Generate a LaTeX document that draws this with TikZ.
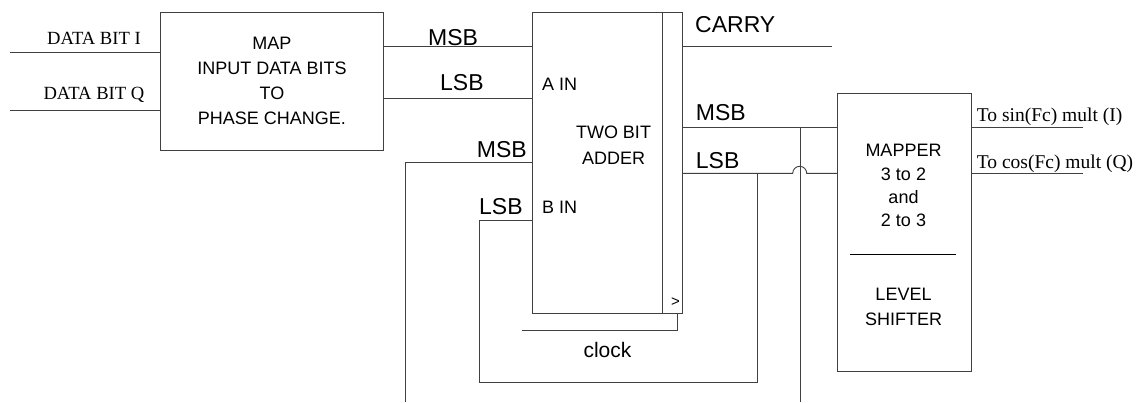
\documentclass[tikz,border=0pt]{standalone}
\usepackage{fontspec}
\setmainfont{Liberation Sans}
\newfontfamily\serifF{Liberation Serif}
\begin{document}
\begin{tikzpicture}[x=1pt,y=-1pt,
  line/.style={draw=black!75, line width=0.9pt},
  blk/.style={line, rectangle, inner sep=0pt, anchor=north west},
  txt/.style={inner sep=0pt, font=\fontsize{18}{25}\selectfont, anchor=base},
  lbl/.style={inner sep=0pt, font=\fontsize{23}{27}\selectfont, anchor=base west},
  stxt/.style={inner sep=0pt, font=\serifF\fontsize{18.6}{22}\selectfont, anchor=base west}]
\useasboundingbox (0,0) rectangle (1140,402);

% blocks
\node[blk, minimum width=223pt, minimum height=138.3pt, align=center,
      font=\fontsize{18}{25}\selectfont] (map) at (160,11.7)
      {MAP\\INPUT DATA BITS\\TO\\PHASE CHANGE.};
\node[blk, minimum width=150pt, minimum height=301.6pt] (adder) at (532,11.7) {};
\node[blk, minimum width=134pt, minimum height=277.7pt] (mapper) at (837,93.3) {};
\draw[line] (662,11.7) -- (662,313.3);

% texts
\node[stxt] (tdi) at (47,44.3) {DATA BIT I};
\node[stxt] (tdq) at (43.3,99.3) {DATA BIT Q};
\node[lbl] (tmsba) at (428,45) {MSB};
\node[lbl] (tlsba) at (440,90.7) {LSB};
\node[txt, anchor=base west] (tain) at (542,90) {A IN};
\node[txt] (ttwo) at (613.5,138.3) {TWO BIT};
\node[txt] (tadd) at (613.5,164.3) {ADDER};
\node[lbl] (tmsbb) at (476.7,157.3) {MSB};
\node[lbl] (tlsbb) at (479,214) {LSB};
\node[txt, anchor=base west] (tbin) at (542,213.3) {B IN};
\node[txt, font=\fontsize{15}{18}\selectfont] (tgt) at (675.5,306.5) {>};
\node[lbl] (tcarry) at (695,32.3) {CARRY};
\node[lbl] (tmsbo) at (695.7,120.7) {MSB};
\node[lbl] (tlsbo) at (695.7,168.3) {LSB};
\node[txt, font=\fontsize{21}{25}\selectfont] (tclock) at (607.5,357.7) {clock};
\node[txt] (tm1) at (903.5,156.7) {MAPPER};
\node[txt] (tm2) at (903.5,180) {3 to 2};
\node[txt] (tm3) at (903.5,203.3) {and};
\node[txt] (tm4) at (903.5,226.7) {2 to 3};
\draw[line, draw=black] (850,254) -- (956,254);
\node[txt] (tm5) at (903.5,300.3) {LEVEL};
\node[txt] (tm6) at (903.5,325) {SHIFTER};
\node[stxt, font=\serifF\fontsize{19.5}{22}\selectfont] (tsin) at (976.7,121.7) {To sin(Fc) mult (I)};
\node[stxt, font=\serifF\fontsize{19.5}{22}\selectfont] (tcos) at (976.7,168.3) {To cos(Fc) mult (Q)};

% coordinates
\coordinate (di) at (10,52.3);
\coordinate (dq) at (10,110.7);
\coordinate (ya) at (0,46);
\coordinate (yl) at (0,98.3);
\coordinate (mbb) at (405,402);
\coordinate (ymb) at (0,162.3);
\coordinate (lbb) at (479,382.7);
\coordinate (ylb) at (0,220.3);
\coordinate (jl) at (757,173.3);
\coordinate (ce) at (832,46);
\coordinate (ymo) at (0,127.3);
\coordinate (mob) at (800,402);
\coordinate (se) at (1083,127.3);
\coordinate (coe) at (1083,173.3);
\coordinate (clk) at (522,330.3);
\coordinate (clkin) at (677,313.3);

% connectors
\draw[line] (di) -- (di -| map.west);
\draw[line] (dq) -- (dq -| map.west);
\draw[line] (map.east |- ya) -- (adder.west |- ya);
\draw[line] (map.east |- yl) -- (adder.west |- yl);
\draw[line] (mbb) |- (adder.west |- ymb);
\draw[line] (adder.west |- ylb) -| (lbb) -| (jl);
\draw[line] (adder.east |- ce) -- (ce);
\draw[line] (adder.east |- ymo) -- (mapper.west |- ymo);
\draw[line] (mob) -- (mob |- ymo);
\draw[line] (adder.east |- jl) -- (792.7,173.3)
   arc[start angle=180, end angle=360, radius=7] -- (mapper.west |- jl);
\draw[line] (mapper.east |- se) -- (se);
\draw[line] (mapper.east |- coe) -- (coe);
\draw[line] (clk) -| (clkin);
\end{tikzpicture}
\end{document}
